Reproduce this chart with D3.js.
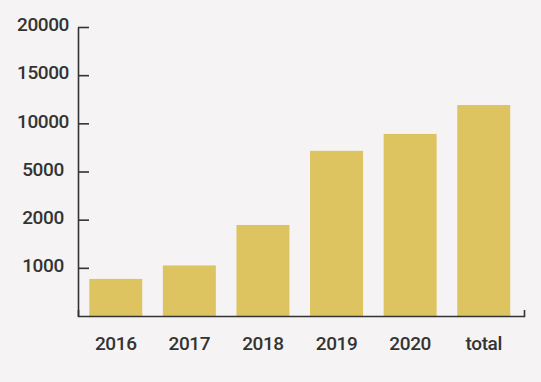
<!DOCTYPE html>
<html><head><meta charset="utf-8">
<script src="https://cdn.jsdelivr.net/npm/d3@7"></script>
<style>
html,body{margin:0;padding:0;background:#f5f3f4;}
text{font-family:Roboto,"DejaVu Sans",sans-serif;}
</style></head>
<body><svg id="c" width="541" height="382"></svg>
<script>
const categories = ["2016","2017","2018","2019","2020","total"];
const values = [770, 1050, 1890, 7150, 8900, 11900];
const tickValues = [0, 1000, 2000, 5000, 10000, 15000, 20000];
const tickLabels = ["", "1000", "2000", "5000", "10000", "15000", "20000"];

(function () {
const W = 541, H = 382;
const mLeft = 78, mRight = 524, mBottom = 316, mTop = 27;
const svg = d3.select("#c");
svg.append("rect").attr("width", W).attr("height", H).attr("fill", "#f5f3f4");

const tickPos = d3.scalePoint().domain(tickValues).range([mBottom, mTop]);
const y = d3.scaleLinear().domain(tickValues).range(tickValues.map(v => tickPos(v)));
const x = d3.scaleBand().domain(categories).range([mLeft, mRight])
  .paddingInner(0.28).paddingOuter(0.17).align(0.45);

svg.append("g").selectAll("rect").data(values).join("rect")
  .attr("x", (d, i) => x(categories[i]))
  .attr("width", x.bandwidth())
  .attr("y", d => y(d))
  .attr("height", d => y(0) - y(d))
  .attr("fill", "#ddc461");

const ya = svg.append("g").attr("transform", `translate(${mLeft},0)`)
  .call(d3.axisLeft(y).tickValues(tickValues.slice(1)).tickSize(-11).tickSizeOuter(0)
    .tickFormat((d) => tickLabels[tickValues.indexOf(d)]));
ya.select(".domain").attr("stroke", "#333").attr("stroke-width", 1.6);
ya.selectAll(".tick line").attr("stroke", "#333").attr("stroke-width", 1.6);
ya.selectAll(".tick text").attr("x", 43 - mLeft).attr("text-anchor", "middle").attr("dy", "0.2em")
  .attr("font-size", 19).attr("font-weight", 500).attr("fill", "#333").attr("letter-spacing", -0.4);

const xa = svg.append("g").attr("transform", `translate(0,${mBottom})`)
  .call(d3.axisBottom(x).tickSize(0).tickSizeOuter(-6));
xa.select(".domain").attr("stroke", "#333").attr("stroke-width", 1.6);
xa.selectAll(".tick text").attr("y", 34).attr("dy", 0)
  .attr("font-size", 19).attr("font-weight", 500).attr("fill", "#333").attr("letter-spacing", -0.4);
})();
</script></body></html>
